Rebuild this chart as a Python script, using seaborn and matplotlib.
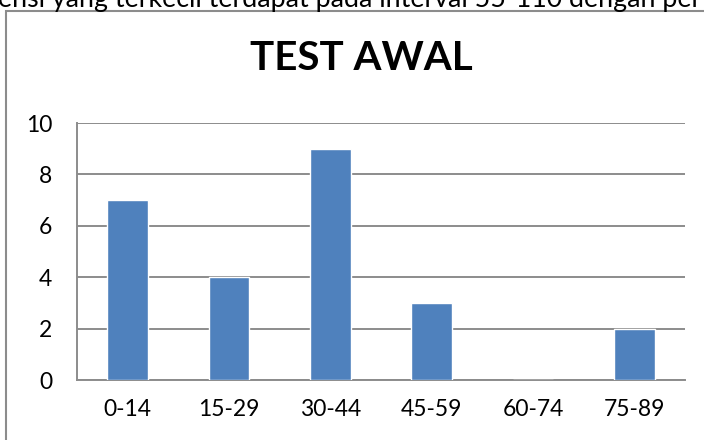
import seaborn as sns
import matplotlib.pyplot as plt
import matplotlib.patches as mpatches
import pandas as pd

# data
intervals = ['0-14', '15-29', '30-44', '45-59', '60-74', '75-89']
counts = [7, 4, 9, 3, 0, 2]
title = 'TEST AWAL'
caption = 'ensi yang terkecil terdapat pada interval 55-110 dengan per'
yticks = [0, 2, 4, 6, 8, 10]

df = pd.DataFrame({'interval': intervals, 'count': counts})

sns.set_style('white')
plt.rcParams['font.family'] = ['Lato', 'DejaVu Sans']
plt.rcParams['text.color'] = 'black'

fig = plt.figure(figsize=(7.04, 4.40), dpi=100)
ax = fig.add_axes([77/704, 1-380/440, 608/704, 257/440])

sns.barplot(data=df, x='interval', y='count', color='#4F81BD', saturation=1,
            width=0.4, ax=ax, zorder=3)

ax.set_ylim(0, 10)
ax.set_xlim(-0.5, len(intervals)-0.5)
ax.set_yticks(yticks)
ax.yaxis.grid(True, color='#8c8c8c', linewidth=1.4, zorder=0)
ax.set_axisbelow(True)
ax.tick_params(axis='y', length=0, pad=18, labelsize=16.5, labelcolor='black')
ax.tick_params(axis='x', length=0, pad=14, labelsize=16.5, labelcolor='black')
ax.set_xlabel('')
ax.set_ylabel('')
for s in ['top', 'right']:
    ax.spines[s].set_visible(False)
for s in ['left', 'bottom']:
    ax.spines[s].set_color('#8c8c8c')
    ax.spines[s].set_linewidth(1.4)

# chart border
border = mpatches.Rectangle((6/704, -0.1), 1.1, 1-11/440+0.1, transform=fig.transFigure,
                            fill=False, edgecolor='#8c8c8c', linewidth=1.5, clip_on=False)
fig.add_artist(border)

fig.text(361/704, 1-59/440, title, ha='center', va='center', fontsize=29,
         fontweight='bold', color='black')
fig.text(-2/704, 1-7/440, caption, ha='left', va='baseline', fontsize=19.3,
         color='black')

plt.savefig('out.png', dpi=100)
